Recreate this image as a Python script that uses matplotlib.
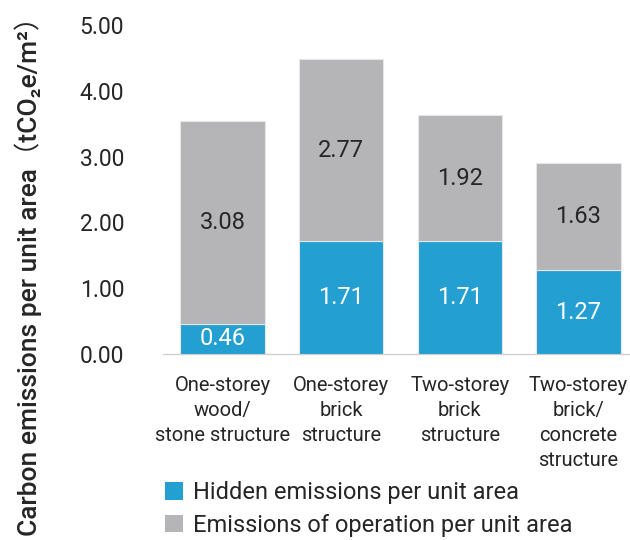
"""Stacked bar chart of carbon emissions per unit area for four building types."""

import matplotlib.pyplot as plt
from matplotlib.patches import Patch

BLUE = "#23a0d1"
GREY = "#b5b5b7"
INK = "#262626"
BASELINE = "#d0d0d0"

CATEGORIES = [
    "One-storey\nwood/\nstone structure",
    "One-storey\nbrick\nstructure",
    "Two-storey\nbrick\nstructure",
    "Two-storey\nbrick/\nconcrete\nstructure",
]
HIDDEN = [0.46, 1.71, 1.71, 1.27]
OPERATION = [3.08, 2.77, 1.92, 1.63]
Y_TICKS = [0, 1, 2, 3, 4, 5]

FONTS = ["Roboto", "Noto Sans CJK SC", "DejaVu Sans"]


def main():
    plt.rcParams["font.family"] = FONTS
    fig = plt.figure(figsize=(6.3, 5.4), dpi=100)
    ax = fig.add_axes([0.259, 0.3444, 0.741, 0.6093])

    x = list(range(len(CATEGORIES)))
    ax.bar(x, HIDDEN, width=0.71, color=BLUE, edgecolor="#e6e6e6", linewidth=0.8, zorder=3)
    ax.bar(x, OPERATION, bottom=HIDDEN, width=0.71, color=GREY,
           edgecolor="#e6e6e6", linewidth=0.8, zorder=3)

    for xi, h, o in zip(x, HIDDEN, OPERATION):
        ax.text(xi, h / 2, f"{h:.2f}", ha="center", va="center",
                fontsize=17, color="white", zorder=4)
        ax.text(xi, h + o / 2, f"{o:.2f}", ha="center", va="center",
                fontsize=17, color=INK, zorder=4)

    ax.set_xlim(-0.5, 3.434)
    ax.set_ylim(0, 5)
    ax.set_xticks(x)
    ax.set_xticklabels(CATEGORIES, fontsize=14.5, color=INK, linespacing=1.4)
    ax.set_yticks(Y_TICKS)
    ax.set_yticklabels([f"{v:.2f}" for v in Y_TICKS], fontsize=16.5, color=INK)
    ax.tick_params(axis="y", length=0, pad=28)
    ax.tick_params(axis="x", length=0, pad=16)

    for side in ("top", "right", "left"):
        ax.spines[side].set_visible(False)
    ax.spines["bottom"].set_color(BASELINE)
    ax.spines["bottom"].set_linewidth(1)

    fig.text(0.044, 0.5, "Carbon emissions per unit area（tCO₂e/m²）",
             rotation=90, ha="center", va="center", fontsize=19,
             fontweight="medium", color=INK)

    handles = [Patch(facecolor=BLUE, label="Hidden emissions per unit area"),
               Patch(facecolor=GREY, label="Emissions of operation per unit area")]
    fig.legend(handles=handles, loc="upper left", bbox_to_anchor=(0.228, 0.148),
               frameon=False, fontsize=17, handlelength=0.75, handleheight=0.75,
               handletextpad=0.45, labelspacing=0.4, labelcolor=INK)

    fig.savefig("out.png", dpi=100, facecolor="white")


if __name__ == "__main__":
    main()
